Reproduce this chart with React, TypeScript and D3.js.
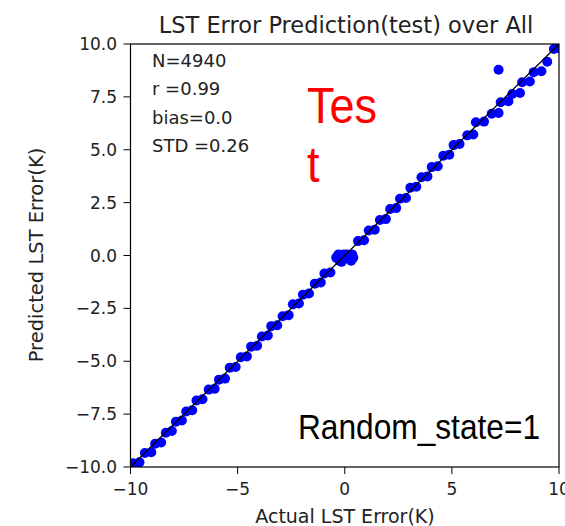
import React from "react";
import * as d3 from "d3";

const title = "LST Error Prediction(test) over All";
const xLabel = "Actual LST Error(K)";
const yLabel = "Predicted LST Error(K)";
const xTicks = [-10, -5, 0, 5, 10];
const yTicks = [-10, -7.5, -5, -2.5, 0, 2.5, 5, 7.5, 10];
const statsLines = ["N=4940", "r =0.99", "bias=0.0", "STD =0.26"];

const actual = [
  -9.88, -9.58, -9.33, -9.03, -8.85, -8.57, -8.35, -8.07, -7.88, -7.6, -7.4, -7.12,
  -6.92, -6.64, -6.35, -6.07, -5.87, -5.59, -5.37, -5.09, -4.85, -4.57, -4.37, -4.09,
  -3.87, -3.59, -3.43, -3.15, -2.9, -2.62, -2.42, -2.14, -1.95, -1.67, -1.4, -1.12,
  -0.95, -0.67,
  -0.4, -0.3, -0.15, 0.0, 0.15, 0.3, 0.4, -0.25, 0.1, 0.35, -0.05,
  0.62, 0.9, 1.12, 1.4, 1.64, 1.92, 2.12, 2.4, 2.58, 2.86, 3.06, 3.34, 3.58, 3.86,
  4.06, 4.34, 4.6, 4.88, 5.08, 5.36, 5.72, 6.0, 6.12, 6.5, 6.86, 7.18, 7.28, 7.64,
  7.82, 8.18, 8.28, 8.64, 8.82, 9.18, 9.45, 9.76, 9.98,
  7.18,
];
const predicted = [
  -9.82, -9.78, -9.34, -9.3, -8.9, -8.84, -8.38, -8.3, -7.86, -7.8, -7.38, -7.32,
  -6.86, -6.8, -6.34, -6.3, -5.87, -5.82, -5.31, -5.27, -4.81, -4.77, -4.31, -4.27,
  -3.83, -3.78, -3.34, -3.3, -2.87, -2.82, -2.31, -2.27, -1.85, -1.8, -1.33, -1.28,
  -0.85, -0.8,
  -0.1, 0.05, -0.3, -0.15, 0.0, -0.25, -0.1, -0.25, 0.05, 0.05, 0.05,
  0.68, 0.72, 1.18, 1.22, 1.68, 1.72, 2.2, 2.24, 2.68, 2.72, 3.2, 3.25, 3.7, 3.74,
  4.18, 4.22, 4.72, 4.76, 5.22, 5.27, 5.68, 5.72, 6.3, 6.33, 6.7, 6.74, 7.25, 7.29,
  7.64, 7.68, 8.19, 8.23, 8.67, 8.71, 9.16, 9.76, 9.8,
  8.78,
];

const W = 565;
const H = 526;
const left = 130.5;
const right = 559;
const top = 44;
const bottom = 467;

export default function App() {
  const x = d3.scaleLinear().domain([-10, 10]).range([left, right]);
  const y = d3.scaleLinear().domain([-10, 10]).range([bottom, top]);
  const points = actual.map((a, i) => ({ a, p: predicted[i] }));
  const line = d3.line<number>().x((v) => x(v)).y((v) => y(v));
  const dejavu = "'DejaVu Sans', sans-serif";
  return (
    <svg
      width={W}
      height={H}
      style={{ position: "absolute", left: 0, top: 0, background: "#fff" }}
    >
      <rect x={0} y={0} width={W} height={H} fill="#fff" />
      <text x={346} y={33} textAnchor="middle" fontFamily={dejavu} fontSize={22.5} fill="#222">
        {title}
      </text>
      <defs>
        <clipPath id="plotclip">
          <rect x={left} y={top} width={right - left} height={bottom - top} />
        </clipPath>
      </defs>
      <g clipPath="url(#plotclip)">
        {points.map((d, i) => (
          <circle key={i} cx={x(d.a)} cy={y(d.p)} r={5} fill="#0000ff" />
        ))}
        <path d={line([-10, 10]) || ""} stroke="#000" strokeWidth={1.3} fill="none" />
      </g>
      <rect
        x={left}
        y={top}
        width={right - left}
        height={bottom - top}
        fill="none"
        stroke="#000"
        strokeWidth={1.2}
      />
      {xTicks.map((t) => (
        <g key={"x" + t}>
          <line x1={x(t)} x2={x(t)} y1={bottom} y2={bottom + 7} stroke="#000" strokeWidth={1} />
          <text x={x(t)} y={495} textAnchor="middle" fontFamily={dejavu} fontSize={17} fill="#222">
            {t < 0 ? "\u2212" + Math.abs(t) : String(t)}
          </text>
        </g>
      ))}
      {yTicks.map((t) => (
        <g key={"y" + t}>
          <line x1={left - 7} x2={left} y1={y(t)} y2={y(t)} stroke="#000" strokeWidth={1} />
          <text x={117} y={y(t) + 6} textAnchor="end" fontFamily={dejavu} fontSize={17} fill="#222">
            {t < 0 ? "\u2212" + Math.abs(t).toFixed(1) : t.toFixed(1)}
          </text>
        </g>
      ))}
      <text x={345} y={523} textAnchor="middle" fontFamily={dejavu} fontSize={19} fill="#222">
        {xLabel}
      </text>
      <text
        transform={`translate(43,255) rotate(-90)`}
        textAnchor="middle"
        fontFamily={dejavu}
        fontSize={19.5}
        fill="#222"
      >
        {yLabel}
      </text>
      {statsLines.map((s, i) => (
        <text key={s} x={152} y={67 + i * 28.4} fontFamily={dejavu} fontSize={18} fill="#222">
          {s}
        </text>
      ))}
      <g transform="translate(307,0) scale(0.9,1)">
        <text x={0} y={123} fontFamily="'Liberation Sans', Arial, sans-serif" fontSize={50} fill="#ff0000">
          Tes
        </text>
        <text x={0} y={182} fontFamily="'Liberation Sans', Arial, sans-serif" fontSize={50} fill="#ff0000">
          t
        </text>
      </g>
      <g transform="translate(298,0) scale(0.905,1)">
        <text x={0} y={439} fontFamily="'Liberation Sans', Arial, sans-serif" fontSize={35} fill="#000">
          Random_state=1
        </text>
      </g>
    </svg>
  );
}
